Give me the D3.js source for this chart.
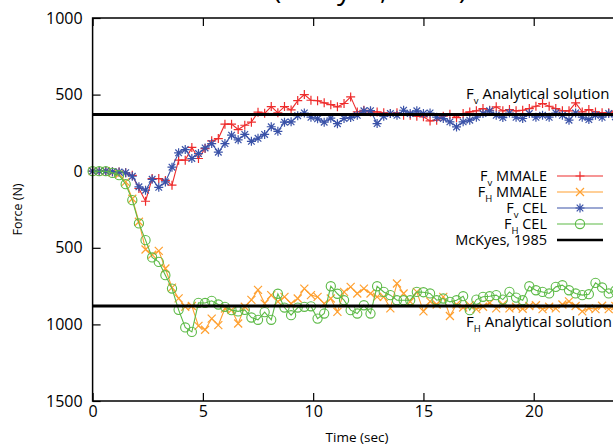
<!DOCTYPE html>
<html>
<head>
<meta charset="utf-8">
<script src="https://d3js.org/d3.v7.min.js"></script>
<style>
  body { margin: 0; background: #fff; }
  svg { display: block; font-family: "Open Sans", sans-serif; }
</style>
</head>
<body>
<svg id="chart" width="613" height="448"></svg>
<script>
"use strict";
// sample grid of the simulation output (every 0.3 s)
const times = d3.range(84).map((i) => +(i * 0.3).toFixed(1));

const fvMmale = [0, 0, 0, -3, -5, -10, -27, -113, -196, -48, -48, -60, -91, 72, 72, 155, 83, 148, 198, 213,
  307, 307, 272, 300, 320, 385, 378, 422, 381, 422, 400, 461, 500, 463, 460, 446, 434, 420, 442, 485,
  387, 398, 387, 387, 381, 376, 381, 365, 365, 359, 355, 328, 333, 359, 372, 350, 376, 387, 394, 409,
  398, 420, 394, 402, 394, 398, 409, 424, 442, 424, 409, 394, 394, 446, 387, 402, 387, 381, 381, 392,
  378, 385, 370, 380];
const fhMmale = [0, 0, 0, -8, -20, -70, -180, -330, -511, -545, -520, -635, -760, -830, -885, -880, -1010, -1035, -962, -1005,
  -896, -905, -994, -885, -840, -775, -864, -809, -851, -820, -864, -831, -766, -809, -820, -864, -831, -918, -788, -755,
  -798, -766, -798, -820, -820, -895, -733, -798, -851, -788, -915, -850, -870, -820, -945, -870, -890, -875, -900, -885,
  -860, -895, -870, -895, -885, -898, -880, -875, -900, -885, -895, -870, -850, -880, -915, -895, -900, -878, -900, -880,
  -905, -885, -895, -880];
const fvCel = [0, 0, 0, -3, -5, -10, -33, -102, -124, -53, -105, -70, 26, 120, 141, 83, 115, 152, 180, 124,
  180, 235, 205, 240, 195, 215, 240, 290, 260, 320, 322, 362, 380, 352, 342, 320, 346, 310, 344, 350,
  365, 394, 395, 311, 359, 376, 365, 398, 376, 394, 376, 380, 352, 344, 322, 289, 322, 333, 352, 376,
  394, 365, 350, 380, 352, 344, 376, 352, 365, 352, 380, 365, 333, 380, 352, 337, 365, 352, 376, 355,
  362, 348, 370, 358];
const fhCel = [0, 0, 0, -11, -26, -85, -189, -341, -450, -563, -592, -679, -766, -905, -1020, -1049, -859, -860, -846, -870,
  -885, -907, -915, -905, -955, -970, -920, -970, -800, -890, -940, -890, -885, -882, -962, -929, -751, -800, -842, -907,
  -929, -875, -929, -751, -788, -809, -842, -842, -842, -788, -790, -798, -842, -831, -853, -842, -816, -907, -838, -820,
  -816, -809, -838, -788, -825, -842, -751, -777, -788, -798, -755, -744, -777, -798, -809, -803, -729, -759, -798, -780,
  -760, -790, -770, -785];

const fvAnalytic = 370;
const fhAnalytic = -880;
const xTicks = [0, 5, 10, 15, 20];
const yTicks = [1000, 500, 0, -500, -1000, -1500];

const MARK = {
  plus: "M-4.5,0H4.5M0,-4.5V4.5",
  times: "M-4,-4L4,4M-4,4L4,-4",
  star: "M-4.5,0H4.5M0,-4.5V4.5M-3.3,-3.3L3.3,3.3M-3.3,3.3L3.3,-3.3"
};

const series = [
  { sub: "v", label: " MMALE", values: fvMmale, color: "#ee2c2c", marker: "plus" },
  { sub: "H", label: " MMALE", values: fhMmale, color: "#ffa030", marker: "times" },
  { sub: "v", label: " CEL", values: fvCel, color: "#3a52a8", marker: "star" },
  { sub: "H", label: " CEL", values: fhCel, color: "#5cba46", marker: "circle" }
];

const svg = d3.select("#chart");
const L = 92.6, T = 18, B = 401, R = 644;
const x = d3.scaleLinear().domain([0, 25]).range([L, R]);
const y = d3.scaleLinear().domain([1000, -1500]).range([T, B]);

// title, mostly above the page edge
svg.append("text").attr("x", 370).attr("y", -1).attr("text-anchor", "middle")
  .attr("font-size", 28).text("(McKyes, 1985)");

// axes with inner ticks
const ax = svg.append("g");
ax.append("g").attr("transform", `translate(0,${B})`)
  .call(d3.axisBottom(x).tickValues(xTicks).tickSize(-8).tickPadding(5))
  .call((g) => g.select(".domain").remove());
ax.append("g").attr("transform", `translate(0,${T})`)
  .call(d3.axisTop(x).tickValues(xTicks).tickSize(-8).tickFormat(""))
  .call((g) => g.select(".domain").remove());
ax.append("g").attr("transform", `translate(${L},0)`)
  .call(d3.axisLeft(y).tickValues(yTicks).tickSize(-8).tickPadding(10).tickFormat((d) => Math.abs(d)))
  .call((g) => g.select(".domain").remove());
ax.selectAll("text").attr("font-family", "Open Sans").attr("font-size", 16).attr("fill", "#000");
ax.selectAll("line").attr("stroke", "#000").attr("stroke-width", 1.2);

svg.append("text").attr("x", 357).attr("y", 442).attr("text-anchor", "middle")
  .attr("font-size", 13.5).text("Time (sec)");
svg.append("text").attr("transform", `translate(22,${(T + B) / 2}) rotate(-90)`)
  .attr("text-anchor", "middle").attr("font-size", 12.5).text("Force (N)");

// data
const line = d3.line().x((d, i) => x(times[i])).y((d) => y(d));
const plot = svg.append("g");

function drawMarker(g, kind, color) {
  if (kind === "circle") {
    g.append("circle").attr("r", 4.6).attr("fill", "none").attr("stroke", color).attr("stroke-width", 1.1);
  } else {
    g.append("path").attr("d", MARK[kind]).attr("fill", "none").attr("stroke", color).attr("stroke-width", 1.2);
  }
}

series.forEach((s) => {
  plot.append("path").datum(s.values).attr("d", line)
    .attr("fill", "none").attr("stroke", s.color).attr("stroke-width", 1.1);
  plot.append("g").selectAll("g").data(s.values).join("g")
    .attr("transform", (d, i) => `translate(${x(times[i])},${y(d)})`)
    .each(function () { drawMarker(d3.select(this), s.marker, s.color); });
});

// analytical solutions
[fvAnalytic, fhAnalytic].forEach((v) => {
  svg.append("line").attr("x1", L).attr("x2", R).attr("y1", y(v)).attr("y2", y(v))
    .attr("stroke", "#000").attr("stroke-width", 3);
});

function fLabel(sel, sub, rest) {
  sel.append("tspan").text("F");
  sel.append("tspan").attr("font-size", 9.5).attr("dy", 5).text(sub);
  sel.append("tspan").attr("dy", -5).text(rest);
}

fLabel(svg.append("text").attr("x", 466).attr("y", 99).attr("font-size", 15), "v", " Analytical solution");
fLabel(svg.append("text").attr("x", 466).attr("y", 327).attr("font-size", 15), "H", " Analytical solution");

// frame
svg.append("rect").attr("x", L).attr("y", T).attr("width", R - L).attr("height", B - T)
  .attr("fill", "none").attr("stroke", "#000").attr("stroke-width", 1.5);

// legend
const legend = svg.append("g").attr("font-size", 14.5);
const rowY = (i) => 176 + i * 16;
series.forEach((s, i) => {
  const cy = rowY(i);
  fLabel(legend.append("text").attr("x", 547).attr("y", cy + 5).attr("text-anchor", "end"), s.sub, s.label);
  legend.append("line").attr("x1", 557).attr("x2", 603).attr("y1", cy).attr("y2", cy)
    .attr("stroke", s.color).attr("stroke-width", 1.1);
  drawMarker(legend.append("g").attr("transform", `translate(580,${cy})`), s.marker, s.color);
});
legend.append("text").attr("x", 547).attr("y", rowY(4) + 5).attr("text-anchor", "end").text("McKyes, 1985");
legend.append("line").attr("x1", 557).attr("x2", 603).attr("y1", rowY(4)).attr("y2", rowY(4))
  .attr("stroke", "#000").attr("stroke-width", 2.5);
</script>
</body>
</html>
